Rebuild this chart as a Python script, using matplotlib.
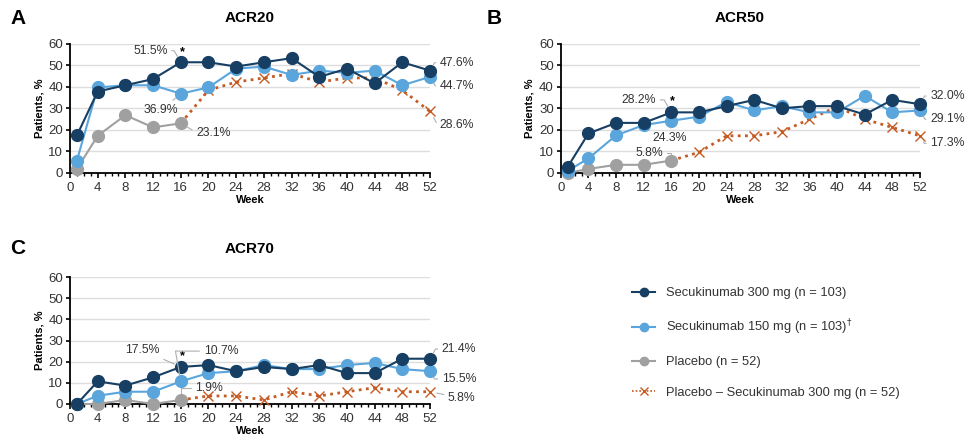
import matplotlib
matplotlib.use("Agg")
import matplotlib.pyplot as plt
from matplotlib.lines import Line2D
from matplotlib.ticker import MultipleLocator

plt.rcParams['font.family'] = ['Liberation Sans', 'DejaVu Sans']

# weeks for each series
weeks = [1, 4, 8, 12, 16, 20, 24, 28, 32, 36, 40, 44, 48, 52]
pbo_weeks = [1, 4, 8, 12, 16]
switch_weeks = [16, 20, 24, 28, 32, 36, 40, 44, 48, 52]

# ACR20
acr20_300 = [17.5, 37.9, 40.8, 43.7, 51.5, 51.5, 49.5, 51.5, 53.4, 44.7, 48.5, 41.7, 51.5, 47.6]
acr20_150 = [5.8, 39.8, 40.8, 40.8, 36.9, 39.8, 48.5, 49.5, 45.6, 47.6, 46.6, 47.6, 40.8, 44.7]
acr20_pbo = [1.9, 17.3, 26.9, 21.2, 23.1]
acr20_switch = [23.1, 38.5, 42.3, 44.2, 46.2, 42.3, 44.2, 44.2, 38.5, 28.6]

# ACR50
acr50_300 = [2.9, 18.4, 23.3, 23.3, 28.2, 28.2, 31.1, 34.0, 30.1, 31.1, 31.1, 27.2, 34.0, 32.0]
acr50_150 = [1.0, 6.8, 17.5, 22.3, 24.3, 26.2, 33.0, 29.1, 31.1, 28.2, 28.2, 35.9, 28.2, 29.1]
acr50_pbo = [0.0, 1.9, 3.8, 3.8, 5.8]
acr50_switch = [5.8, 9.6, 17.3, 17.3, 19.2, 25.0, 30.8, 25.0, 21.2, 17.3]

# ACR70
acr70_300 = [0.0, 10.7, 8.7, 12.6, 17.5, 18.4, 15.5, 17.5, 16.5, 18.4, 14.6, 14.6, 21.4, 21.4]
acr70_150 = [0.0, 3.9, 5.8, 5.8, 10.7, 14.6, 15.5, 18.4, 16.5, 16.5, 18.4, 19.4, 16.5, 15.5]
acr70_pbo = [0.0, 0.0, 1.9, 0.0, 1.9]
acr70_switch = [1.9, 3.8, 3.8, 1.9, 5.8, 3.8, 5.8, 7.7, 5.8, 5.8]

legend_labels = ["Secukinumab 300 mg (n = 103)",
                 "Secukinumab 150 mg (n = 103)$^{\\dagger}$",
                 "Placebo (n = 52)",
                 "Placebo \u2013 Secukinumab 300 mg (n = 52)"]

c300 = '#173f63'
c150 = '#5aa5dc'
cpbo = '#a0a0a0'
csw = '#c55a22'
txt = '#333333'
lead = '#b0b0b0'


def setup_axes(ax):
    ax.set_xlim(0, 52)
    ax.set_ylim(0, 60)
    ax.xaxis.set_major_locator(MultipleLocator(4))
    ax.xaxis.set_minor_locator(MultipleLocator(1))
    ax.yaxis.set_major_locator(MultipleLocator(10))
    for s in ['top', 'right']:
        ax.spines[s].set_visible(False)
    for s in ['left', 'bottom']:
        ax.spines[s].set_linewidth(1.3)
        ax.spines[s].set_color('black')
    ax.tick_params(axis='x', which='major', length=3.5, width=1.2, labelsize=9.5, pad=3, labelcolor=txt)
    ax.tick_params(axis='x', which='minor', length=2.5, width=1.0)
    ax.tick_params(axis='y', length=3, width=1.2, labelsize=9.5, pad=2, labelcolor=txt)
    ax.grid(axis='y', color='#dddddd', lw=1)
    ax.set_axisbelow(True)
    ax.set_ylabel('Patients, %', fontsize=8, fontweight='bold', labelpad=3)
    ax.set_xlabel('Week', fontsize=8, fontweight='bold', labelpad=1)


def draw_series(ax, s300, s150, spbo, ssw):
    # no cross at the switch week, the placebo dot sits there
    ax.plot(switch_weeks, ssw, color=csw, lw=2, ls=(0, (1, 1.6)), marker='x', ms=7.5,
            mew=1.0, markevery=list(range(1, len(ssw))), clip_on=False, zorder=3)
    ax.plot(pbo_weeks, spbo, color=cpbo, lw=1.5, marker='o', ms=8.5, clip_on=False, zorder=4)
    ax.plot(weeks, s150, color=c150, lw=1.5, marker='o', ms=8.5, clip_on=False, zorder=5)
    ax.plot(weeks, s300, color=c300, lw=1.5, marker='o', ms=8.5, clip_on=False, zorder=6)


def label(ax, text, xy, xytext, ha='center', conn='arc3'):
    ax.annotate(text, xy=xy, xytext=xytext, ha=ha, va='center', fontsize=8.8, color=txt,
                annotation_clip=False, zorder=10,
                arrowprops=dict(arrowstyle='-', color=lead, lw=0.8, shrinkA=1, shrinkB=5,
                                connectionstyle=conn))


fig = plt.figure(figsize=(9.67, 4.47), dpi=100)
axA = fig.add_axes([0.0724, 0.613, 0.3723, 0.2886])
axB = fig.add_axes([0.580, 0.613, 0.3713, 0.2886])
axC = fig.add_axes([0.0724, 0.0962, 0.3723, 0.284])

for ax in (axA, axB, axC):
    setup_axes(ax)

draw_series(axA, acr20_300, acr20_150, acr20_pbo, acr20_switch)
draw_series(axB, acr50_300, acr50_150, acr50_pbo, acr50_switch)
draw_series(axC, acr70_300, acr70_150, acr70_pbo, acr70_switch)

# panel A labels
label(axA, '51.5%', (16, acr20_300[4]), (11.6, 56.9), conn='angle,angleA=0,angleB=-60,rad=0')
axA.text(16.2, 56.0, '*', ha='center', va='center', fontsize=9, fontweight='bold')
label(axA, '36.9%', (16, acr20_150[4]), (13.2, 29.3), conn='arc3')
label(axA, '23.1%', (16, acr20_pbo[4]), (20.7, 18.5), conn='angle,angleA=0,angleB=-30,rad=0')
label(axA, '47.6%', (52, acr20_300[-1]), (55.9, 51.3), conn='angle,angleA=0,angleB=60,rad=0')
label(axA, '44.7%', (52, acr20_150[-1]), (55.9, 40.5), conn='angle,angleA=0,angleB=-60,rad=0')
label(axA, '28.6%', (52, acr20_switch[-1]), (55.9, 22.3), conn='angle,angleA=0,angleB=-60,rad=0')

# panel B labels
label(axB, '28.2%', (16, acr50_300[4]), (11.3, 34.0), conn='angle,angleA=0,angleB=-60,rad=0')
axB.text(16.2, 33.3, '*', ha='center', va='center', fontsize=9, fontweight='bold')
label(axB, '24.3%', (16, acr50_150[4]), (15.7, 16.2), conn='arc3')
label(axB, '5.8%', (16, acr50_pbo[4]), (12.8, 9.2), conn='angle,angleA=0,angleB=-90,rad=0')
label(axB, '32.0%', (52, acr50_300[-1]), (56.0, 35.8), conn='angle,angleA=0,angleB=60,rad=0')
label(axB, '29.1%', (52, acr50_150[-1]), (56.0, 25.0), conn='angle,angleA=0,angleB=-60,rad=0')
label(axB, '17.3%', (52, acr50_switch[-1]), (56.0, 13.8), conn='angle,angleA=0,angleB=-60,rad=0')

# panel C labels
label(axC, '17.5%', (16, acr70_300[4]), (10.5, 25.5), conn='arc3')
axC.text(16.2, 22.4, '*', ha='center', va='center', fontsize=9, fontweight='bold')
label(axC, '10.7%', (16, acr70_150[4]), (21.8, 25.0), conn='angle,angleA=0,angleB=-80,rad=0')
label(axC, '1.9%', (16, acr70_pbo[4]), (20.1, 7.5), conn='angle,angleA=0,angleB=-90,rad=0')
label(axC, '21.4%', (52, acr70_300[-1]), (56.2, 26.0), conn='angle,angleA=0,angleB=60,rad=0')
label(axC, '15.5%', (52, acr70_150[-1]), (56.2, 11.8), conn='angle,angleA=0,angleB=-60,rad=0')
label(axC, '5.8%', (52, acr70_switch[-1]), (56.6, 2.8), conn='arc3')

# titles and panel letters
fig.text(10 / 967, 1 - 18 / 447, 'A', fontsize=15, fontweight='bold', va='center')
fig.text(250 / 967, 1 - 18 / 447, 'ACR20', fontsize=11, fontweight='bold', va='center', ha='center')
fig.text(487 / 967, 1 - 18 / 447, 'B', fontsize=15, fontweight='bold', va='center')
fig.text(740 / 967, 1 - 18 / 447, 'ACR50', fontsize=11, fontweight='bold', va='center', ha='center')
fig.text(10 / 967, 1 - 249 / 447, 'C', fontsize=15, fontweight='bold', va='center')
fig.text(250 / 967, 1 - 249 / 447, 'ACR70', fontsize=11, fontweight='bold', va='center', ha='center')

# legend
handles = [
    Line2D([], [], color=c300, lw=1.5, marker='o', ms=6),
    Line2D([], [], color=c150, lw=1.5, marker='o', ms=6),
    Line2D([], [], color=cpbo, lw=1.5, marker='o', ms=6),
    Line2D([], [], color=csw, lw=1.2, ls=(0, (1, 1.2)), marker='x', ms=6, mew=1.0),
]
leg = fig.legend(handles, legend_labels, loc='upper left', bbox_to_anchor=(632 / 967, 1 - 287 / 447),
                 frameon=False, fontsize=9.3, handlelength=1.8, handletextpad=0.85,
                 labelspacing=1.45, borderpad=0, borderaxespad=0)
for t in leg.get_texts():
    t.set_color(txt)

fig.savefig('out.png', dpi=100)
